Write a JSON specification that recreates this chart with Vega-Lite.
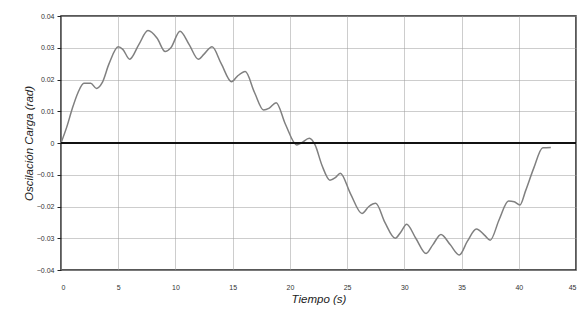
{
  "$schema": "https://vega.github.io/schema/vega-lite/v6.json",
  "autosize": {"type": "none"},
  "width": 515,
  "height": 254,
  "padding": {"left": 61, "top": 16, "right": 7, "bottom": 53},
  "background": "white",
  "config": {
    "view": {"stroke": "#222222", "strokeWidth": 1.5},
    "font": "Liberation Sans",
    "axis": {
      "labelFont": "Liberation Sans",
      "titleFont": "Liberation Sans",
      "labelFontSize": 7,
      "labelColor": "#333333",
      "titleColor": "#222222",
      "titleFontSize": 11.5,
      "titleFontStyle": "italic",
      "titleFontWeight": "normal",
      "gridColor": "#9a9a9a",
      "gridDash": [1, 1],
      "gridWidth": 1,
      "domain": false
    }
  },
  "data": {
    "values": [
      {"t": 0, "v": 0},
      {"t": 0.5, "v": 0.005},
      {"t": 1.0, "v": 0.011},
      {"t": 1.5, "v": 0.016},
      {"t": 2.0, "v": 0.0188},
      {"t": 2.6, "v": 0.0188},
      {"t": 3.1, "v": 0.0172},
      {"t": 3.6, "v": 0.019},
      {"t": 4.2, "v": 0.025},
      {"t": 5.0, "v": 0.0303},
      {"t": 5.4, "v": 0.0295},
      {"t": 6.0, "v": 0.0264},
      {"t": 6.8, "v": 0.031},
      {"t": 7.6, "v": 0.0354},
      {"t": 8.4, "v": 0.033},
      {"t": 9.1, "v": 0.0288},
      {"t": 9.6, "v": 0.03},
      {"t": 10.4, "v": 0.0352},
      {"t": 11.2, "v": 0.031},
      {"t": 12.0, "v": 0.0264},
      {"t": 12.5, "v": 0.028},
      {"t": 13.2, "v": 0.0303},
      {"t": 14.0, "v": 0.025},
      {"t": 14.9, "v": 0.0193},
      {"t": 15.4, "v": 0.021},
      {"t": 16.1, "v": 0.0225},
      {"t": 16.9, "v": 0.016},
      {"t": 17.7, "v": 0.0104},
      {"t": 18.2, "v": 0.011},
      {"t": 18.8, "v": 0.0127},
      {"t": 19.6, "v": 0.006},
      {"t": 20.6, "v": -0.0006},
      {"t": 21.0, "v": 0.0},
      {"t": 21.7, "v": 0.0015},
      {"t": 22.2, "v": -0.0006},
      {"t": 22.8, "v": -0.007},
      {"t": 23.5, "v": -0.0117},
      {"t": 24.0, "v": -0.0108},
      {"t": 24.4, "v": -0.0095},
      {"t": 25.3, "v": -0.016},
      {"t": 26.3, "v": -0.0222},
      {"t": 26.9, "v": -0.02},
      {"t": 27.5, "v": -0.019},
      {"t": 28.3, "v": -0.025},
      {"t": 29.2, "v": -0.03},
      {"t": 29.7, "v": -0.028},
      {"t": 30.2, "v": -0.0256},
      {"t": 31.0, "v": -0.03},
      {"t": 31.9, "v": -0.0348},
      {"t": 32.5, "v": -0.032},
      {"t": 33.2, "v": -0.0288},
      {"t": 34.0, "v": -0.032},
      {"t": 34.8, "v": -0.0353},
      {"t": 35.5, "v": -0.031},
      {"t": 36.3, "v": -0.0271},
      {"t": 37.0, "v": -0.029},
      {"t": 37.5, "v": -0.0306},
      {"t": 38.3, "v": -0.024},
      {"t": 39.1, "v": -0.0183},
      {"t": 39.6, "v": -0.0185},
      {"t": 40.1, "v": -0.0195},
      {"t": 40.6, "v": -0.015},
      {"t": 41.3, "v": -0.008},
      {"t": 42.1, "v": -0.0015},
      {"t": 42.8, "v": -0.0014}
    ]
  },
  "layer": [
    {
      "mark": {"type": "line", "color": "#808080", "strokeWidth": 1.5, "interpolate": "monotone"},
      "encoding": {
        "x": {
          "field": "t", "type": "quantitative",
          "scale": {"domain": [0, 45], "nice": false},
          "axis": {"title": "Tiempo (s)", "values": [0, 5, 10, 15, 20, 25, 30, 35, 40, 45], "tickCount": 12, "tickSize": 0, "labelPadding": 13, "titlePadding": 3, "labelOverlap": false}
        },
        "y": {
          "field": "v", "type": "quantitative",
          "scale": {"domain": [-0.04, 0.04], "nice": false, "zero": false},
          "axis": {"title": "Oscilación Carga (rad)", "values": [-0.04, -0.03, -0.02, -0.01, 0, 0.01, 0.02, 0.03, 0.04], "tickCount": 12, "format": ".2~f", "tickSize": 4, "tickColor": "#222222", "labelPadding": 3, "titlePadding": 2, "labelOverlap": false}
        }
      }
    },
    {
      "mark": {"type": "rule", "color": "#111111", "strokeWidth": 2},
      "encoding": {"y": {"datum": 0}}
    }
  ]
}
